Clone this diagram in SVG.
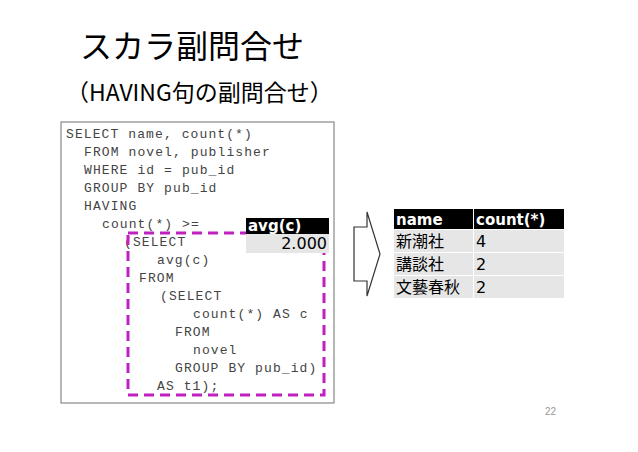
<svg xmlns="http://www.w3.org/2000/svg" width="638" height="452" viewBox="0 0 638 452">
<style>
.t{font-family:"Noto Sans CJK JP","Noto Sans",sans-serif;fill:#000}
.c{font-family:"Liberation Mono",monospace;font-size:13px;letter-spacing:1.1px;fill:#444}
.h{font-family:"DejaVu Sans","Noto Sans CJK JP",sans-serif;font-weight:bold;font-size:15px;fill:#fff}
.d{font-family:"DejaVu Sans","Noto Sans CJK JP",sans-serif;font-size:16px;fill:#000}
</style>
<rect width="638" height="452" fill="#fff"/>
<g id="title">
<text class="t" x="80" y="58" font-size="32">スカラ副問合せ</text>
<text class="t" x="66" y="101" font-size="23">（HAVING句の副問合せ）</text>
</g>
<g id="code">
<rect x="61" y="122" width="273" height="281" fill="#fff" stroke="#888" stroke-width="1.2"/>
<text class="c" x="66" y="138">SELECT name, count(*)</text>
<text class="c" x="84" y="156">FROM novel, publisher</text>
<text class="c" x="84" y="174">WHERE id = pub_id</text>
<text class="c" x="84" y="192">GROUP BY pub_id</text>
<text class="c" x="84" y="210">HAVING</text>
<text class="c" x="102" y="228">count(*) &gt;=</text>
<text class="c" x="124" y="246">(SELECT</text>
<text class="c" x="157" y="264">avg(c)</text>
<text class="c" x="139" y="282">FROM</text>
<text class="c" x="160" y="300">(SELECT</text>
<text class="c" x="193" y="318">count(*) AS c</text>
<text class="c" x="175" y="336">FROM</text>
<text class="c" x="193" y="354">novel</text>
<text class="c" x="175" y="372">GROUP BY pub_id)</text>
<text class="c" x="157" y="390">AS t1);</text>
</g>
<g id="subquery">
<rect x="128" y="233" width="196" height="162" fill="none" stroke="#c020c0" stroke-width="3" stroke-dasharray="10,6"/>
</g>
<g id="avg">
<rect x="246" y="218" width="83" height="16" fill="#000"/>
<rect x="246" y="234" width="83" height="19" fill="#e6e6e6"/>
<text class="h" x="248" y="231">avg(c)</text>
<text class="d" x="327" y="249" text-anchor="end" font-size="15">2.000</text>
</g>
<g id="arrow">
<polygon points="354,227 367,227 367,212 380,254 367,296 367,281 354,281" fill="#fff" stroke="#333" stroke-width="1.2"/>
</g>
<g id="result">
<rect x="394" y="209" width="79" height="20" fill="#000"/>
<rect x="474" y="209" width="90" height="20" fill="#000"/>
<rect x="394" y="230" width="79" height="22" fill="#e6e6e6"/>
<rect x="474" y="230" width="90" height="22" fill="#e6e6e6"/>
<rect x="394" y="253" width="79" height="22" fill="#e6e6e6"/>
<rect x="474" y="253" width="90" height="22" fill="#e6e6e6"/>
<rect x="394" y="276" width="79" height="22" fill="#e6e6e6"/>
<rect x="474" y="276" width="90" height="22" fill="#e6e6e6"/>
<text class="h" x="396" y="225" font-size="16">name</text>
<text class="h" x="476" y="225" font-size="16">count(*)</text>
<text class="d" x="396" y="247">新潮社</text><text class="d" x="476" y="247">4</text>
<text class="d" x="396" y="270">講談社</text><text class="d" x="476" y="270">2</text>
<text class="d" x="396" y="293">文藝春秋</text><text class="d" x="476" y="293">2</text>
</g>
<text x="545" y="415" font-family="Liberation Sans,sans-serif" font-size="10" fill="#999">22</text>
</svg>
